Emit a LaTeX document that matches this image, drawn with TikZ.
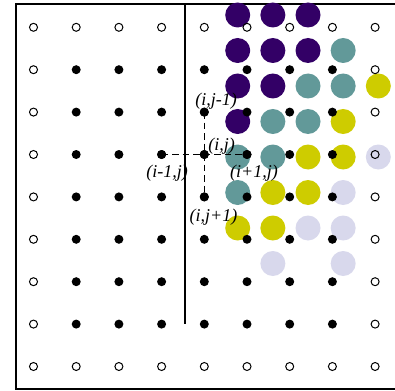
\documentclass[tikz,border=0pt]{standalone}
\usepackage{fontspec}
\setmainfont{Liberation Serif}
\begin{document}
\begin{tikzpicture}[x=1pt,y=-1pt,
  opendot/.style={circle,draw=black,line width=1pt,fill=none,minimum size=8pt,inner sep=0pt},
  fulldot/.style={circle,fill=black,minimum size=9pt,inner sep=0pt},
  blob/.style={circle,minimum size=25pt,inner sep=0pt},
  lbl/.style={font=\fontsize{18}{18}\selectfont\itshape,inner sep=0pt},
  frame/.style={line width=2pt},
  wall/.style={line width=1.5pt},
  cross/.style={line width=1.4pt,dash pattern=on 6.5pt off 4pt}]
\useasboundingbox (0,0) rectangle (395,390);
\definecolor{cpur}{RGB}{51,0,102}
\definecolor{cteal}{RGB}{98,153,153}
\definecolor{cyel}{RGB}{206,204,0}
\definecolor{clav}{RGB}{216,216,236}
% frame
\coordinate (f1) at (396,4);
\coordinate (f2) at (16,4);
\coordinate (f3) at (16,389);
\coordinate (f4) at (396,389);
\draw[frame] (f1) -- (f2) -- (f3) -- (f4);
% wall
\coordinate (w1) at (185,4);
\coordinate (w2) at (185,324);
\draw[wall] (w1) -- (w2);
% coloured circles
\foreach \c/\r/\col in {0/0/cpur,1/0/cpur,2/0/cpur,
  0/1/cpur,1/1/cpur,2/1/cpur,3/1/cteal,
  0/2/cpur,1/2/cpur,2/2/cteal,3/2/cteal,4/2/cyel,
  0/3/cpur,1/3/cteal,2/3/cteal,3/3/cyel,
  0/4/cteal,1/4/cteal,2/4/cyel,3/4/cyel,4/4/clav,
  0/5/cteal,1/5/cyel,2/5/cyel,3/5/clav,
  0/6/cyel,1/6/cyel,2/6/clav,3/6/clav,
  1/7/clav,3/7/clav}
  \node[blob,fill=\col] (b\c\r) at ({237.7+35.15*\c},{15+35.5*\r}) {};
% lattice
\foreach \i in {0,...,8}{
  \foreach \j in {0,...,8}{
    \pgfmathtruncatemacro{\edge}{(\i==0)||(\i==8)||(\j==0)||(\j==8)}
    \ifnum\edge=1
      \node[opendot] (p\i\j) at ({33.5+42.7*\i},{27.3+42.4*\j}) {};
    \else
      \node[fulldot] (p\i\j) at ({33.5+42.7*\i},{27.3+42.4*\j}) {};
    \fi
  }
}
% stencil
\draw[cross] (p33.center) -- (p53.center);
\draw[cross] (p42.center) -- (p44.center);
\node[fulldot] at (p33) {};
\node[fulldot] at (p53) {};
\node[fulldot] at (p43) {};
\node[fulldot] at (p42) {};
\node[fulldot] at (p44) {};
% labels
\node[lbl] (l1) at (216,101) {(i,j-1)};
\node[lbl] (l2) at (221.5,146) {(i,j)};
\node[lbl] (l3) at (167,173) {(i-1,j)};
\node[lbl] (l4) at (254,173) {(i+1,j)};
\node[lbl] (l5) at (213.5,217) {(i,j+1)};
\end{tikzpicture}
\end{document}
